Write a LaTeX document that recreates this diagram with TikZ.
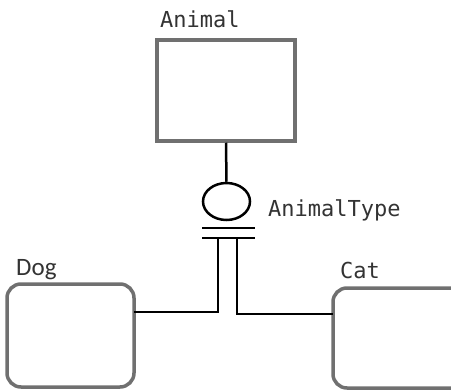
\documentclass[tikz,border=0pt]{standalone}
\usepackage{fontspec}
\setmonofont{DejaVu Sans Mono}
\newfontfamily\labelsans{Carlito}
\usetikzlibrary{shapes.geometric}
\begin{document}
\begin{tikzpicture}[x=1pt,y=-1pt,
  entity/.style={draw=boxgray,line width=3.5pt,inner sep=0pt},
  conn/.style={draw=black,line width=2.5pt},
  lbl/.style={inner sep=0pt,text=textgray,anchor=base west,font=\ttfamily\fontsize{22}{22}\selectfont}]
\definecolor{boxgray}{HTML}{707070}
\definecolor{textgray}{HTML}{333333}
\useasboundingbox (0,0) rectangle (451,391);
\begin{scope}
\clip (0,0) rectangle (451,391);
% entities
\node[entity,minimum width=138pt,minimum height=101pt] (Animal) at (226,90.5) {};
\node[entity,rounded corners=14pt,minimum width=127pt,minimum height=103pt] (Dog) at (70.5,335.5) {};
\node[entity,rounded corners=14pt,minimum width=140pt,minimum height=100pt] (Cat) at (403,338) {};
% discriminator
\node[ellipse,draw,line width=2.5pt,minimum width=47pt,minimum height=37pt,inner sep=0pt] (disc) at (226.5,201.5) {};
\end{scope}
% labels
\node[lbl] (tAnimal) at (160,27) {Animal};
\node[lbl] (tType) at (268,216) {AnimalType};
\node[lbl] (tCat) at (340,278) {Cat};
\node[inner sep=0pt,text=textgray,anchor=base west,font=\labelsans\fontsize{25}{25}\selectfont] (tDog) at (16,275) {Dog};
% connector from supertype to discriminator
\draw[conn] (Animal.south) -- (disc.north);
% complete-subtype double bar
\coordinate (b1l) at (202,228);
\coordinate (b1r) at (255,228);
\coordinate (b2l) at (202,238);
\coordinate (b2r) at (255,238);
\draw[conn] (b1l) -- (b1r);
\draw[conn] (b2l) -- (b2r);
% branches to the subtypes
\coordinate (jl) at (218,238);
\coordinate (jr) at (237,238);
\coordinate (dj) at (134,312);
\coordinate (cj) at (333,314);
\draw[conn] (jl) |- (dj);
\draw[conn] (jr) |- (cj);
\end{tikzpicture}
\end{document}
